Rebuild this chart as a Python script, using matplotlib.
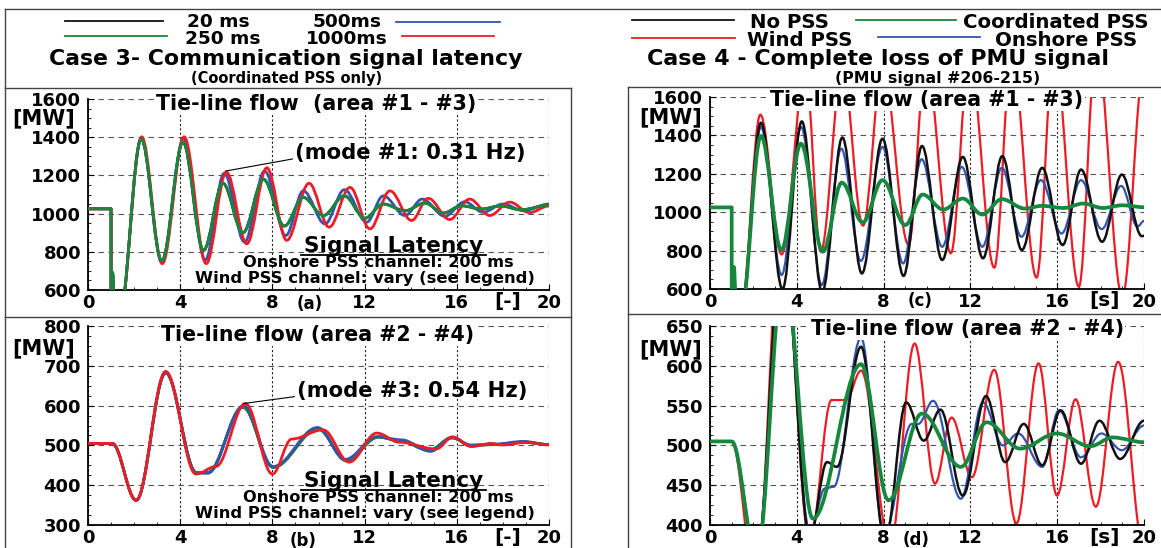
import matplotlib
matplotlib.use("Agg")
import matplotlib.pyplot as plt
from matplotlib.path import Path
from matplotlib.patches import PathPatch
from matplotlib.lines import Line2D
from matplotlib.ticker import MultipleLocator

plt.rcParams['font.family'] = ['DejaVu Sans']
plt.rcParams['font.weight'] = 'bold'

W, H = 1161, 548

# ---- data: turning points (time [s], power [MW]) ----
# (a) tie-line flow area #1 - #3, case 3 (latency)
a250_t = [0, 1.0, 1.0, 1.07, 1.12, 1.35, 2.31, 3.2, 4.12, 5.01, 5.85, 6.72, 7.61, 8.52, 9.34, 10.21,
          11.12, 12.01, 12.81, 13.75, 14.62, 15.41, 16.2, 17.07, 17.9, 18.8, 20]
a250_v = [1025, 1025, 560, 690, 560, 450, 1390, 752, 1374, 808, 1159, 900, 1180, 935, 1085, 990,
          1093, 976, 1050, 1015, 1055, 1003, 1041, 1024, 1040, 1020, 1045]
a500_t = [0, 1.0, 1.0, 1.07, 1.12, 1.35, 2.31, 3.2, 4.15, 5.08, 5.91, 6.79, 7.66, 8.58, 9.34, 10.28,
          11.12, 12.09, 12.81, 13.75, 14.5, 15.48, 16.34, 17.14, 18.0, 18.9, 20]
a500_v = [1025, 1025, 560, 690, 560, 450, 1395, 745, 1395, 756, 1211, 851, 1223, 885, 1119, 946,
          1125, 955, 1093, 990, 1076, 986, 1062, 1007, 1050, 1015, 1050]
a1000_t = [0, 1.0, 1.0, 1.07, 1.12, 1.35, 2.33, 3.22, 4.17, 5.13, 6.0, 6.89, 7.76, 8.62, 9.59, 10.46,
           11.37, 12.23, 13.1, 14.04, 14.76, 15.69, 16.56, 17.43, 18.3, 19.15, 20]
a1000_v = [1025, 1025, 560, 690, 560, 450, 1402, 738, 1402, 738, 1218, 842, 1240, 860, 1159, 929,
           1137, 920, 1119, 964, 1080, 969, 1076, 990, 1060, 1005, 1040]

# (b) tie-line flow area #2 - #4, case 3
b250_t = [0, 1.05, 2.09, 3.37, 4.7, 5.2, 6.72, 8.03, 9.98, 11.2, 12.6, 13.5, 14.8, 15.8, 16.6, 17.6, 18.9, 20]
b250_v = [505, 505, 362, 682, 432, 432, 596, 445, 541, 462, 521, 512, 488, 519, 500, 502, 508, 502]
b500_t = [0, 1.05, 2.09, 3.37, 4.7, 5.2, 6.75, 8.03, 9.96, 11.16, 12.53, 13.6, 14.86, 15.8, 16.6, 17.6, 18.88, 20]
b500_v = [505, 505, 362, 684, 430, 430, 600, 447, 545, 465, 522, 514, 485, 521, 501, 503, 510, 502]
b1000_t = [0, 1.05, 2.09, 3.37, 4.68, 5.55, 6.83, 8.0, 8.84, 10.2, 11.33, 12.53, 13.5, 15.1, 15.82,
           16.63, 17.5, 18.0, 19.04, 20]
b1000_v = [505, 505, 362, 686, 428, 447, 605, 428, 516, 539, 458, 531, 508, 491, 521,
           497, 505, 501, 508, 501]

# (c) tie-line flow area #1 - #3, case 4 (PMU loss)
c_nopss_t = [0, 1.0, 1.0, 1.1, 1.18, 1.4, 2.35, 3.34, 4.23, 5.17, 6.1, 7.0, 7.95, 8.92, 9.77, 10.7,
             11.65, 12.58, 13.47, 14.37, 15.31, 16.25, 17.1, 18.07, 18.98, 19.9, 20]
c_nopss_v = [1025, 1025, 560, 715, 560, 450, 1466, 600, 1473, 585, 1389, 681, 1383, 668, 1345, 751,
             1288, 760, 1292, 803, 1231, 829, 1222, 846, 1196, 875, 877]
c_onsh_t = [0, 1.0, 1.0, 1.1, 1.18, 1.4, 2.35, 3.3, 4.2, 5.15, 6.05, 6.95, 7.95, 8.9, 9.75, 10.7,
            11.6, 12.55, 13.45, 14.35, 15.25, 16.2, 17.1, 18.05, 18.95, 19.7, 20]
c_onsh_v = [1025, 1025, 560, 715, 560, 450, 1444, 673, 1444, 621, 1331, 746, 1340, 733, 1276, 820,
            1236, 820, 1231, 872, 1167, 889, 1167, 912, 1137, 925, 955]
c_wind_t = [0, 1.0, 1.0, 1.1, 1.18, 1.4, 2.32, 3.3, 4.4, 5.1, 6.1, 7.05, 7.95, 9.15, 9.95, 11.1,
            11.95, 13.1, 13.9, 15.05, 15.85, 17.0, 17.8, 19.0, 20]
c_wind_v = [1025, 1025, 560, 715, 560, 450, 1508, 780, 1740, 795, 1750, 930, 1760, 830, 1780, 786,
            1800, 711, 1820, 659, 1840, 612, 1860, 560, 1750]
c_coord_t = [0, 1.0, 1.0, 1.1, 1.18, 1.4, 2.35, 3.29, 4.19, 5.2, 6.07, 7.04, 7.95, 9.0, 9.8, 10.75,
             11.65, 12.55, 13.45, 14.5, 15.3, 16.3, 17.2, 18.1, 19.0, 20]
c_coord_v = [1025, 1025, 560, 715, 560, 450, 1397, 803, 1357, 794, 1154, 947, 1167, 933, 1092, 1014,
             1071, 988, 1068, 1019, 1033, 1022, 1045, 1022, 1036, 1026]

# (d) tie-line flow area #2 - #4, case 4
d_nopss_t = [0, 1.0, 2.15, 3.35, 4.6, 5.39, 5.85, 6.96, 8.07, 9.04, 9.85, 10.62, 11.65, 12.72, 13.6,
             14.46, 15.31, 16.16, 17.1, 17.95, 18.9, 20]
d_nopss_v = [505, 505, 360, 760, 385, 479, 473, 624, 380, 554, 506, 545, 437, 562, 479,
             527, 475, 544, 477, 531, 483, 531]
d_onsh_t = [0, 1.0, 2.15, 3.35, 4.6, 5.3, 5.7, 6.96, 8.03, 9.3, 9.6, 10.28, 11.56, 12.58, 13.5,
            14.2, 15.31, 16.08, 17.1, 18.04, 18.98, 20]
d_onsh_v = [505, 505, 360, 755, 392, 446, 448, 635, 390, 527, 527, 556, 433, 554, 500,
            515, 473, 544, 485, 515, 494, 525]
d_wind_t = [0, 1.0, 2.1, 3.3, 4.6, 5.6, 6.27, 6.96, 8.3, 9.43, 10.37, 11.13, 12.07, 13.1, 14.12,
            15.14, 15.99, 16.85, 17.78, 18.81, 20]
d_wind_v = [505, 505, 330, 780, 380, 557, 557, 594, 375, 628, 452, 535, 460, 595, 402,
            603, 437, 558, 423, 605, 370]
d_coord_t = [0, 1.0, 2.15, 3.4, 4.74, 6.96, 8.23, 9.77, 11.56, 12.75, 14.29, 15.99, 17.53, 18.55, 20]
d_coord_v = [505, 505, 360, 720, 408, 602, 431, 540, 473, 529, 496, 515, 499, 510, 504]

BLACK = '#111111'
GREEN = '#16873c'
BLUE = '#3355b0'
RED = '#ee1c24'


def trace(ax, t, v, color, lw, z):
    # smooth curve through turning points (flat tangent at each point)
    k = 0.36
    verts = [(t[0], v[0])]
    codes = [Path.MOVETO]
    for i in range(1, len(t)):
        dt = t[i] - t[i - 1]
        verts += [(t[i - 1] + k * dt, v[i - 1]), (t[i] - k * dt, v[i]), (t[i], v[i])]
        codes += [Path.CURVE4] * 3
    ax.add_patch(PathPatch(Path(verts, codes), fill=False, edgecolor=color, lw=lw, zorder=z,
                           joinstyle='round', capstyle='round'))


def make_axes(x0, x1, ytop, ybot, ylim, ystep):
    ax = fig.add_axes([x0 / W, 1 - ybot / H, (x1 - x0) / W, (ybot - ytop) / H])
    ax.set_xlim(0, 20)
    ax.set_ylim(*ylim)
    ax.set_xticks(range(0, 21, 4))
    ax.set_yticks(range(ylim[0], ylim[1] + 1, ystep))
    ax.xaxis.set_minor_locator(MultipleLocator(1))
    ax.yaxis.set_minor_locator(MultipleLocator(ystep / 4))
    ax.tick_params(which='both', direction='in', labelsize=13)
    ax.tick_params(axis='y', pad=5)
    ax.tick_params(axis='x', pad=3)
    ax.tick_params(which='major', length=4)
    ax.tick_params(which='minor', length=2.5)
    for s in ['top', 'right']:
        ax.spines[s].set_visible(False)
    for s in ['left', 'bottom']:
        ax.spines[s].set_linewidth(1.3)
    ax.yaxis.grid(True, ls=(0, (5, 4)), color='#555555', lw=0.8)
    ax.xaxis.grid(True, ls=(0, (2, 2)), color='#222222', lw=0.8)
    ax.set_axisbelow(True)
    return ax


fig = plt.figure(figsize=(W / 100, H / 100), dpi=100)

ax_a = make_axes(88, 549, 99, 290, (600, 1600), 200)
ax_b = make_axes(88, 549, 326, 525, (300, 800), 100)
ax_c = make_axes(710, 1144, 97, 289, (600, 1600), 200)
ax_d = make_axes(710, 1144, 326, 525, (400, 650), 50)

# case 3 traces (20 ms trace lies under the 250 ms one)
trace(ax_a, a250_t, a250_v, BLACK, 2.0, 2)
trace(ax_a, a500_t, a500_v, BLUE, 2.0, 3)
trace(ax_a, a1000_t, a1000_v, RED, 2.0, 4)
trace(ax_a, a250_t, a250_v, GREEN, 2.0, 5)

trace(ax_b, b250_t, b250_v, BLACK, 2.0, 2)
trace(ax_b, b250_t, b250_v, GREEN, 2.0, 3)
trace(ax_b, b500_t, b500_v, BLUE, 2.0, 4)
trace(ax_b, b1000_t, b1000_v, RED, 2.0, 5)

# case 4 traces
trace(ax_c, c_wind_t, c_wind_v, RED, 1.6, 2)
trace(ax_c, c_onsh_t, c_onsh_v, BLUE, 1.6, 3)
trace(ax_c, c_nopss_t, c_nopss_v, BLACK, 1.8, 4)
trace(ax_c, c_coord_t, c_coord_v, GREEN, 2.7, 5)

trace(ax_d, d_wind_t, d_wind_v, RED, 1.6, 2)
trace(ax_d, d_onsh_t, d_onsh_v, BLUE, 1.6, 3)
trace(ax_d, d_nopss_t, d_nopss_v, BLACK, 1.8, 4)
trace(ax_d, d_coord_t, d_coord_v, GREEN, 2.7, 5)

white = dict(facecolor='white', edgecolor='none', pad=1)
ax_a.text(0.495, 0.975, 'Tie-line flow  (area #1 - #3)', transform=ax_a.transAxes, ha='center',
          va='center', fontsize=14.8, bbox=white, zorder=6)
ax_b.text(0.498, 0.955, 'Tie-line flow (area #2 - #4)', transform=ax_b.transAxes, ha='center',
          va='center', fontsize=14.8, bbox=white, zorder=6)
ax_c.text(0.50, 0.985, 'Tie-line flow (area #1 - #3)', transform=ax_c.transAxes, ha='center',
          va='center', fontsize=14.8, bbox=white, zorder=6)
ax_d.text(0.593, 0.985, 'Tie-line flow (area #2 - #4)', transform=ax_d.transAxes, ha='center',
          va='center', fontsize=14.8, bbox=white, zorder=6)

for ax, x, y in [(ax_a, -0.097, 0.9), (ax_b, -0.097, 0.89), (ax_c, -0.091, 0.892), (ax_d, -0.091, 0.882)]:
    ax.text(x, y, '[MW]', transform=ax.transAxes, ha='center', va='center', fontsize=15)

for ax, lab, unit, tl, yl, yu in [(ax_a, '(a)', '[-]', 9.63, -0.075, -0.058),
                                  (ax_b, '(b)', '[-]', 9.32, -0.078, -0.062),
                                  (ax_c, '(c)', '[s]', 9.68, -0.06, -0.058),
                                  (ax_d, '(d)', '[s]', 9.5, -0.075, -0.062)]:
    tr = ax.get_xaxis_transform()
    ax.text(tl, yl, lab, transform=tr, ha='center', va='center', fontsize=12)
    ax.text(18.2, yu, unit, transform=tr, ha='center', va='center', fontsize=14.5)

ax_a.annotate('(mode #1: 0.31 Hz)', xy=(5.98, 1223), xytext=(9.0, 1315), ha='left', va='center',
              fontsize=15.2, zorder=7,
              arrowprops=dict(arrowstyle='-', color='k', lw=0.8, shrinkA=0, shrinkB=0, relpos=(0, 0.25)))
ax_b.annotate('(mode #3: 0.54 Hz)', xy=(6.72, 605), xytext=(9.08, 636), ha='left', va='center',
              fontsize=15.2, zorder=7,
              arrowprops=dict(arrowstyle='-', color='k', lw=0.8, shrinkA=0, shrinkB=0, relpos=(0, 0.25)))

for ax, ys, yl, yo, yw in [(ax_a, 0.228, 0.184, 0.143, 0.062), (ax_b, 0.222, 0.176, 0.138, 0.058)]:
    ax.text(0.663, ys, 'Signal Latency', transform=ax.transAxes, ha='center', va='center',
            fontsize=15.6, zorder=7)
    ax.add_line(Line2D([0.462, 0.863], [yl, yl], transform=ax.transAxes, color='k', lw=1.3, zorder=7))
    ax.text(0.63, yo, 'Onshore PSS channel: 200 ms', transform=ax.transAxes, ha='center',
            va='center', fontsize=11.6, zorder=7)
    ax.text(0.6, yw, 'Wind PSS channel: vary (see legend)', transform=ax.transAxes, ha='center',
            va='center', fontsize=11.8, zorder=7)


# ---- header: legends and case titles ----
def fig_line(x0, x1, y0, y1, color='#444444', lw=1.0):
    fig.add_artist(Line2D([x0 / W, x1 / W], [1 - y0 / H, 1 - y1 / H], color=color, lw=lw,
                          transform=fig.transFigure))


def fig_text(x, y, s, size, ha='left'):
    fig.text(x / W, 1 - y / H, s, ha=ha, va='center', fontsize=size)


fig_line(65, 163, 21, 21, BLACK, 1.3)
fig_text(187, 22, '20 ms', 13.3)
fig_text(313, 22, '500ms', 13.3)
fig_line(396, 500, 22, 22, BLUE, 1.3)
fig_line(65, 167, 36, 36, GREEN, 1.3)
fig_text(185, 39, '250 ms', 13.3)
fig_text(306, 39, '1000ms', 13.3)
fig_line(402, 494, 36, 36, RED, 1.3)
fig_text(286, 59, 'Case 3- Communication signal latency', 15.8, ha='center')
fig_text(287, 78, '(Coordinated PSS only)', 10.5, ha='center')

fig_line(632, 734, 20, 20, BLACK, 1.3)
fig_text(750, 22, 'No PSS', 14.2)
fig_line(856, 956, 20, 20, GREEN, 1.3)
fig_text(963, 22, 'Coordinated PSS', 14.2)
fig_line(632, 735, 38, 38, RED, 1.3)
fig_text(747, 40, 'Wind PSS', 14.2)
fig_line(878, 980, 37, 37, BLUE, 1.3)
fig_text(995, 40, 'Onshore PSS', 14.2)
fig_text(878, 59, 'Case 4 - Complete loss of PMU signal', 15.9, ha='center')
fig_text(938, 78, '(PMU signal #206-215)', 11.3, ha='center')

# frames
fig_line(5, 1161, 9, 9)
fig_line(5, 5, 9, 548)
fig_line(5, 571, 88, 88)
fig_line(571, 571, 88, 548)
fig_line(5, 571, 317, 317)
fig_line(628, 1161, 87, 87)
fig_line(628, 628, 87, 548)
fig_line(628, 1161, 314, 314)

fig.savefig('out.png', dpi=100)
